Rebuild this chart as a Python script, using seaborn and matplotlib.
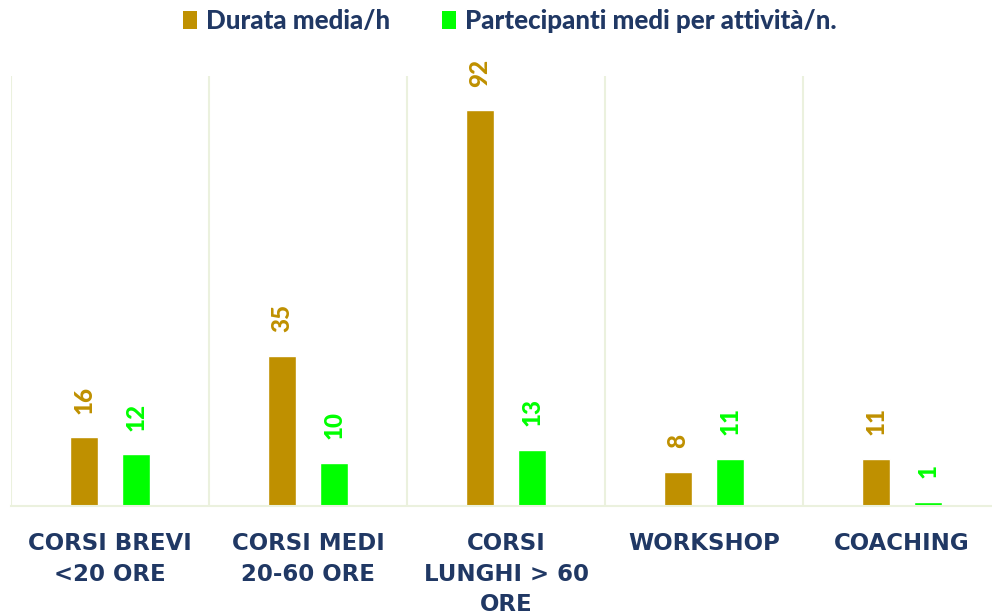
import matplotlib
matplotlib.use("Agg")
import matplotlib.pyplot as plt
from matplotlib.patches import Patch
import seaborn as sns
import pandas as pd
import numpy as np

categories = ["CORSI BREVI\n<20 ORE", "CORSI MEDI\n20-60 ORE", "CORSI\nLUNGHI > 60\nORE",
              "WORKSHOP", "COACHING"]
series_names = ["Durata media/h", "Partecipanti medi per attività/n."]
durata = [16, 35, 92, 8, 11]
partecipanti = [12, 10, 13, 11, 1]
colors = ["#BF9000", "#00FF00"]
navy = "#203864"
grid_col = "#EBF1DE"

sns.set_theme(style="white")
plt.rcParams["font.family"] = ["Lato", "DejaVu Sans"]

df = pd.DataFrame({
    "cat": categories * 2,
    "serie": [series_names[0]] * len(categories) + [series_names[1]] * len(categories),
    "val": durata + partecipanti,
})

fig = plt.figure(figsize=(9.92, 6.14), dpi=100)
ax = fig.add_axes([11 / 992, (614 - 506) / 614, 990 / 992, (506 - 76) / 614])

sns.barplot(data=df, x="cat", y="val", hue="serie", order=categories,
            hue_order=series_names, palette=colors, width=0.525, gap=0.46,
            saturation=1, legend=False, ax=ax, errorbar=None)

for cont, col in zip(ax.containers, colors):
    ax.bar_label(cont, rotation=90, padding=17, color=col, fontsize=17.5,
                 fontweight="black")

ax.set_xlim(-0.5, len(categories) - 0.5)
ax.set_ylim(0, 100)
ax.set_xlabel("")
ax.set_ylabel("")
ax.set_yticks([])
ax.set_xticks(range(len(categories)))
ax.set_xticklabels(categories, color=navy, fontsize=16.5, fontweight="bold",
                   linespacing=1.4, family=["DejaVu Sans"])
ax.tick_params(axis="x", length=0, pad=19)
ax.set_xticks(np.arange(-0.5, len(categories)), minor=True)
ax.tick_params(axis="x", which="minor", length=0)
ax.grid(axis="x", which="minor", color=grid_col, linewidth=1.5)
ax.grid(axis="x", which="major", visible=False)
ax.grid(axis="y", visible=False)
for s in ["top", "right", "left"]:
    ax.spines[s].set_visible(False)
ax.spines["bottom"].set_color(grid_col)
ax.spines["bottom"].set_linewidth(1.5)

handles = [Patch(facecolor=c, edgecolor="none") for c in colors]
leg = fig.legend(handles, series_names, loc="center", bbox_to_anchor=(510 / 992, 1 - 21 / 614),
                 ncol=2, frameon=False, fontsize=18.6, handlelength=0.55, handleheight=0.65,
                 handletextpad=0.35, columnspacing=2.0)
for t in leg.get_texts():
    t.set_color(navy)
    t.set_fontweight("black")

fig.savefig("out.png", dpi=100, facecolor="white")
